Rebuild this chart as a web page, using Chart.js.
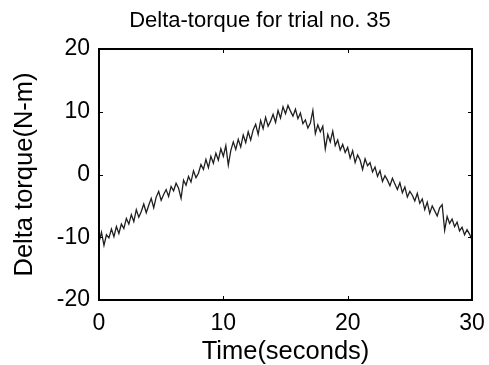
<!DOCTYPE html>
<html>
<head>
<meta charset="utf-8">
<script src="https://cdn.jsdelivr.net/npm/chart.js@4/dist/chart.umd.min.js"></script>
<style>
  html, body { margin: 0; padding: 0; background: #fff; }
  canvas { display: block; }
</style>
</head>
<body>
<canvas id="torqueChart" width="489" height="365"></canvas>
<script>
        // samples every 0.2 s
        const sampleStep = 0.2;
        const torque = [
            -10.8, -9.2, -11.3, -9.6, -10.1, -8.7, -9.9, -8.3, -9.4, -7.9,
            -8.6, -7.0, -7.9, -6.4, -7.5, -5.6, -6.8, -5.9, -4.7, -6.1,
            -4.9, -3.8, -5.3, -3.6, -2.7, -4.1, -3.2, -2.4, -3.5, -1.9,
            -2.6, -1.4, -2.2, -3.8, -0.9, -1.7, -0.3, -1.2, 0.6, -0.5,
            0.2, 1.6, 0.8, 2.4, 1.1, 2.9, 1.8, 3.4, 2.3, 4.1,
            2.9, 4.6, 1.5, 3.8, 5.2, 4.0, 5.6, 4.4, 6.3, 5.1,
            6.8, 5.5, 7.1, 8.0, 6.4, 8.6, 7.3, 9.1, 7.7, 8.5,
            9.6, 8.3, 10.2, 9.0, 10.8, 9.7, 11.0, 10.1, 9.3, 10.4,
            8.9, 9.8, 8.1, 8.7, 7.4, 8.2, 10.2, 6.5, 7.9, 6.8,
            7.7, 4.1, 6.4, 5.2, 6.9, 4.6, 5.5, 3.9, 4.8, 3.5,
            4.3, 2.6, 3.8, 1.9, 3.1, 2.3, 0.8, 2.5, 1.4, 1.9,
            0.4, 1.2, -0.3, 0.6, -1.1, -0.2, -0.9, -1.8, -0.6, -1.5,
            -2.4, -1.3, -2.9, -2.0, -3.6, -2.7, -3.3, -4.2, -3.0, -4.6,
            -3.9, -5.6, -4.4, -6.2, -5.0, -5.8, -6.6, -5.3, -4.8, -8.9,
            -6.7, -7.8, -7.1, -8.3, -7.6, -9.0, -8.4, -9.6, -8.8, -9.5,
            -10.4
        ];
        const xTicks = [0, 10, 20, 30];
        const yTicks = [-20, -10, 0, 10, 20];
        const chartTitle = 'Delta-torque for trial no. 35';

        const points = torque.map((v, i) => ({ x: +(i * sampleStep).toFixed(1), y: v }));
        const font = 'Liberation Sans, Arial, Helvetica, sans-serif';

        // matlab style box with inward ticks on all four sides, plus the title
        const boxPlugin = {
            id: 'box',
            afterDatasetsDraw(c) {
                const ctx = c.ctx;
                const a = c.chartArea;
                const sx = c.scales.x, sy = c.scales.y;
                ctx.save();
                ctx.strokeStyle = '#000';
                ctx.lineWidth = 2;
                ctx.strokeRect(a.left, a.top, a.right - a.left, a.bottom - a.top);
                ctx.lineWidth = 1;
                ctx.beginPath();
                xTicks.forEach(t => {
                    const px = Math.round(sx.getPixelForValue(t)) + 0.5;
                    ctx.moveTo(px, a.bottom); ctx.lineTo(px, a.bottom - 4);
                    ctx.moveTo(px, a.top); ctx.lineTo(px, a.top + 4);
                });
                yTicks.forEach(t => {
                    const py = Math.round(sy.getPixelForValue(t)) + 0.5;
                    ctx.moveTo(a.left, py); ctx.lineTo(a.left + 4, py);
                    ctx.moveTo(a.right, py); ctx.lineTo(a.right - 4, py);
                });
                ctx.stroke();

                ctx.fillStyle = '#000';
                ctx.font = '22px ' + font;
                ctx.textAlign = 'center';
                ctx.textBaseline = 'alphabetic';
                ctx.fillText(chartTitle, 260, 27);
                ctx.restore();
            }
        };

        new Chart(document.getElementById('torqueChart'), {
            type: 'line',
            data: {
                datasets: [{
                    data: points,
                    borderColor: '#1f1f1f',
                    borderWidth: 1.3,
                    pointRadius: 0,
                    tension: 0
                }]
            },
            options: {
                responsive: false,
                animation: false,
                layout: { padding: { left: 0, right: 17, top: 49, bottom: 0 } },
                plugins: {
                    legend: { display: false },
                    tooltip: { enabled: false },
                    title: { display: false }
                },
                scales: {
                    x: {
                        type: 'linear',
                        min: 0,
                        max: 30,
                        afterBuildTicks: s => { s.ticks = xTicks.map(v => ({ value: v })); },
                        afterFit: s => { s.height = 65; s.paddingLeft = 0; s.paddingRight = 0; },
                        grid: { display: false, drawTicks: false },
                        border: { display: false },
                        ticks: { color: '#000', padding: 10, maxRotation: 0, font: { family: font, size: 23 } },
                        title: {
                            display: true,
                            text: 'Time(seconds)',
                            color: '#000',
                            padding: { top: 0, bottom: 0 },
                            font: { family: font, size: 25.5, lineHeight: 1 }
                        }
                    },
                    y: {
                        min: -20,
                        max: 20,
                        afterBuildTicks: s => { s.ticks = yTicks.map(v => ({ value: v })); },
                        afterFit: s => { s.width = 99; s.paddingTop = 0; s.paddingBottom = 0; },
                        grid: { display: false, drawTicks: false },
                        border: { display: false },
                        ticks: { color: '#000', padding: 9, font: { family: font, size: 23 } },
                        title: {
                            display: true,
                            text: 'Delta torque(N-m)',
                            color: '#000',
                            padding: { top: 12, bottom: 0 },
                            font: { family: font, size: 25.5, lineHeight: 1 }
                        }
                    }
                }
            },
            plugins: [boxPlugin]
        });
</script>
</body>
</html>
